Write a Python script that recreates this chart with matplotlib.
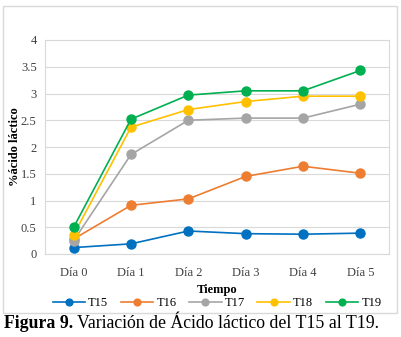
import matplotlib
matplotlib.use('Agg')
import matplotlib.pyplot as plt
from matplotlib.patches import Rectangle

plt.rcParams['font.family'] = ['Liberation Serif', 'DejaVu Serif']

dias = ['Día 0', 'Día 1', 'Día 2', 'Día 3', 'Día 4', 'Día 5']
t15 = [0.12, 0.19, 0.43, 0.38, 0.37, 0.39]
t16 = [0.28, 0.91, 1.03, 1.45, 1.64, 1.51]
t17 = [0.25, 1.86, 2.50, 2.54, 2.54, 2.80]
t18 = [0.36, 2.37, 2.70, 2.85, 2.95, 2.95]
t19 = [0.50, 2.52, 2.97, 3.05, 3.05, 3.43]
series = ['T15', 'T16', 'T17', 'T18', 'T19']
colores = ['#0070C0', '#ED7D31', '#A5A5A5', '#FFC000', '#00B050']

W, H = 401, 337
fig = plt.figure(figsize=(W / 100, H / 100), dpi=100)

# marco exterior del grafico
fig.patches.append(Rectangle((3 / W, 1 - 313 / H), 394 / W, 307 / H,
                             transform=fig.transFigure, fill=False,
                             edgecolor='#d9d9d9', linewidth=1))

ax = fig.add_axes([45 / W, 1 - 254 / H, 344 / W, 214 / H])
x = range(len(dias))
for nombre, datos, c in zip(series, [t15, t16, t17, t18, t19], colores):
    ax.plot(x, datos, color=c, linewidth=1.2, marker='o', markersize=6.5,
            label=nombre)

ax.set_xlim(-0.5, 5.5)
ax.set_ylim(0, 4)
ax.set_yticks([0, 0.5, 1, 1.5, 2, 2.5, 3, 3.5, 4])
ax.set_yticklabels(['0', '0.5', '1', '1.5', '2', '2.5', '3', '3.5', '4'])
ax.set_xticks(list(x))
ax.set_xticklabels(dias)
ax.tick_params(length=0, labelsize=9, colors='#404040')
ax.tick_params(axis='x', pad=9)
ax.tick_params(axis='y', pad=6)
ax.grid(axis='y', color='#d9d9d9', linewidth=0.8)
ax.set_axisbelow(True)
for s in ax.spines.values():
    s.set_color('#d9d9d9')
    s.set_linewidth(0.8)

ax.set_xlabel('Tiempo', fontsize=9, fontweight='bold')
ax.xaxis.set_label_coords(0.5, -30 / 214)
ax.set_ylabel('%ácido láctico', fontsize=9, fontweight='bold')
ax.yaxis.set_label_coords(-24 / 344, 0.5)

ax.legend(loc='center', bbox_to_anchor=(0.5, -49 / 214), ncol=5,
          frameon=False, fontsize=9, handlelength=2.6, columnspacing=1.0,
          handletextpad=0.25, markerscale=0.75, borderpad=0)

# pie de figura
r = fig.canvas.get_renderer()
t1 = fig.text(4 / W, 1 - 324 / H, 'Figura 9.', fontsize=12.8, fontweight='bold',
              va='center', ha='left')
bb = t1.get_window_extent(renderer=r)
fig.text(bb.x1 / W + 4 / W, 1 - 324 / H,
         'Variación de Ácido láctico del T15 al T19.', fontsize=12.8,
         va='center', ha='left')

fig.savefig('out.png', dpi=100)
